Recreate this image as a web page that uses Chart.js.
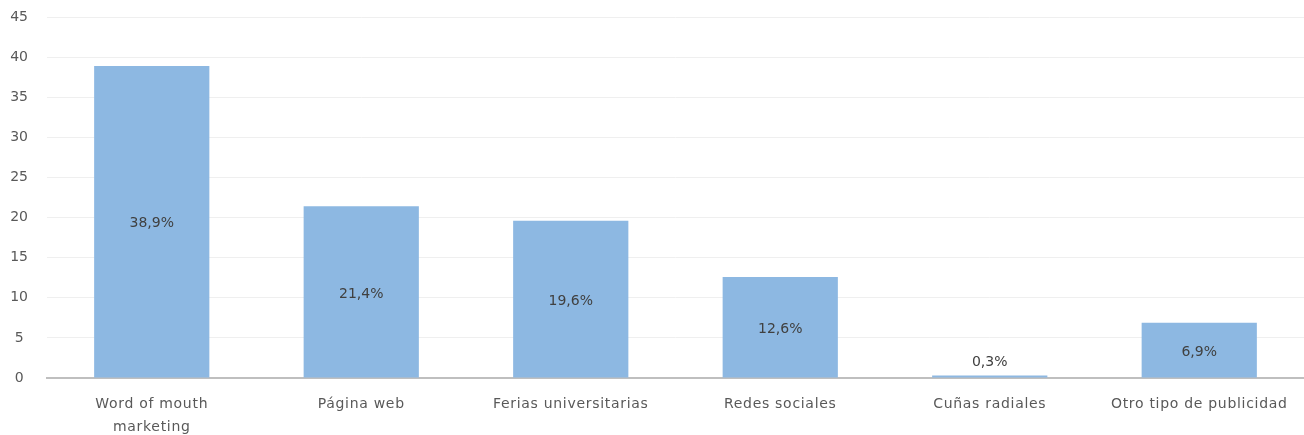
<!DOCTYPE html>
<html><head><meta charset="utf-8">
<script src="https://cdn.jsdelivr.net/npm/chart.js@4/dist/chart.umd.min.js"></script>
<style>html,body{margin:0;padding:0;background:#fff;}#wrap{width:1304px;height:435px;}</style>
</head><body><div id="wrap"><canvas id="c" width="1304" height="435"></canvas></div>
<script>
const categories = [['Word of mouth','marketing'],'Página web','Ferias universitarias','Redes sociales','Cuñas radiales','Otro tipo de publicidad'];
const values = [38.9, 21.4, 19.6, 12.6, 0.3, 6.9];
const valueLabels = ['38,9%','21,4%','19,6%','12,6%','0,3%','6,9%'];
const yTicks = [0,5,10,15,20,25,30,35,40,45];

const FONT = '"DejaVu Sans", sans-serif';
const TXT = '#595959';
const LBL = '#404040';

const labelPlugin = {
  id: 'valLabels',
  afterUpdate(chart){
    const s = chart.scales.x;
    if (s && !s._spaced) {
      const orig = s.drawLabels.bind(s);
      s.drawLabels = function(ca){
        const ctx = this.ctx;
        const prev = ctx.letterSpacing;
        ctx.letterSpacing = '0.7px';
        orig(ca);
        ctx.letterSpacing = prev || '0px';
      };
      s._spaced = true;
    }
  },
  afterDatasetsDraw(chart){
    const ctx = chart.ctx;
    const meta = chart.getDatasetMeta(0);
    ctx.save();
    ctx.font = '14px ' + FONT;
    ctx.fillStyle = LBL;
    ctx.textAlign = 'center';
    ctx.textBaseline = 'middle';
    meta.data.forEach((bar,i)=>{
      const h = bar.base - bar.y;
      let y = (bar.y + bar.base)/2;
      if (h < 20) y = bar.y - 15;
      ctx.fillText(valueLabels[i], bar.x, y + 2);
    });
    ctx.restore();
  }
};

new Chart(document.getElementById('c'), {
  type: 'bar',
  data: { labels: categories, datasets: [{ data: values, backgroundColor: '#8db8e2', borderWidth: 0, barPercentage: 0.55, categoryPercentage: 1.0 }] },
  options: {
    responsive: false, animation: false,
    layout: { padding: { top: 17, right: 0, left: 0, bottom: 0 } },
    plugins: { legend: { display: false }, tooltip: { enabled: false } },
    scales: {
      x: {
        grid: { display: false, drawTicks: false },
        border: { display: true, color: '#bfbfbf', width: 2 },
        ticks: { color: TXT, font: { family: FONT, size: 14, lineHeight: 1.65 }, padding: 15, maxRotation: 0, autoSkip: false },
        afterFit(s){ s.height = 57; s.paddingLeft = 0; s.paddingRight = 0; }
      },
      y: {
        min: 0, max: 45,
        afterBuildTicks(s){ s.ticks = yTicks.map(v=>({value:v})); },
        grid: { color: '#efefef', drawTicks: false, lineWidth: 1 },
        border: { display: false },
        ticks: { color: TXT, font: { family: FONT, size: 14 }, padding: 19, crossAlign: 'center' },
        afterFit(s){ s.width = 47; s.paddingTop = 0; s.paddingBottom = 0; }
      }
    }
  },
  plugins: [labelPlugin]
});
</script></body></html>
